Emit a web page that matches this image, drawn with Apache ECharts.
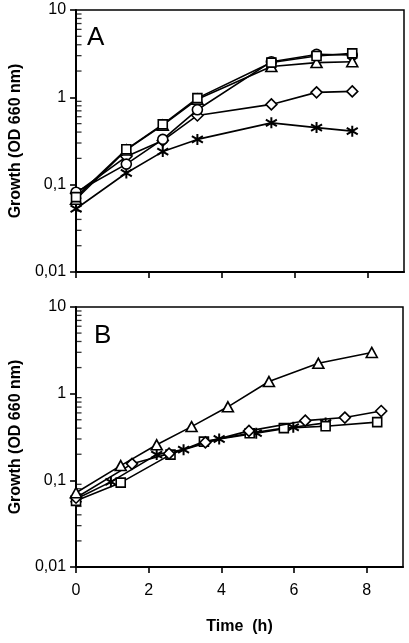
<!DOCTYPE html>
<html>
<head>
<meta charset="utf-8">
<script src="https://cdn.jsdelivr.net/npm/echarts@6/dist/echarts.min.js"></script>
<style>html,body{margin:0;padding:0;background:#fff;}#c{width:409px;height:643px;}</style>
</head>
<body>
<div id="c"></div>
<script>
// ---- Panel A data (time h, OD660) ----
const aTime = [0, 1.38, 2.38, 3.33, 5.36, 6.6, 7.58];
const aSquare   = [0.072, 0.254, 0.49, 0.98, 2.5, 2.97, 3.19];
const aCircle   = [0.082, 0.172, 0.33, 0.72, 2.56, 3.1, 3.05];
const aTriangle = [0.068, 0.25, 0.48, 0.95, 2.25, 2.5, 2.56];
const aDiamond  = [0.080, 0.21, 0.32, 0.62, 0.83, 1.14, 1.17];
const aStar     = [0.053, 0.136, 0.239, 0.33, 0.51, 0.45, 0.41];

// ---- Panel B data ----
const bTriTime  = [0, 1.23, 2.22, 3.18, 4.18, 5.31, 6.67, 8.14];
const bTriangle = [0.072, 0.148, 0.257, 0.417, 0.705, 1.38, 2.24, 2.99];
const bSqTime   = [0, 1.23, 2.6, 3.52, 4.78, 5.72, 6.87, 8.29];
const bSquare   = [0.058, 0.094, 0.198, 0.28, 0.35, 0.40, 0.42, 0.47];
const bDiaTime  = [0, 1.54, 2.56, 3.56, 4.76, 6.31, 7.4, 8.4];
const bDiamond  = [0.063, 0.155, 0.203, 0.274, 0.372, 0.488, 0.53, 0.63];
const bStarTime = [0, 0.96, 2.22, 2.96, 3.94, 4.96, 5.98, 6.87];
const bStar     = [0.061, 0.096, 0.198, 0.226, 0.30, 0.35, 0.41, 0.46];

// ---- axis ----
const xTicks = [0, 2, 4, 6, 8];
const yTickLabels = {'0.01': '0,01', '0.1': '0,1', '1': '1', '10': '10'};
const minorTickValues = [0.02,0.03,0.04,0.05,0.06,0.07,0.08,0.09,0.2,0.3,0.4,0.5,0.6,0.7,0.8,0.9,2,3,4,5,6,7,8,9];

const FONT = 'Liberation Sans, Arial, sans-serif';
const starPath = 'path://M0,-5L0,5M-4.6,-3L4.6,3M-4.6,3L4.6,-3';

function zip(xs, ys){ return xs.map((x,i)=>[x, ys[i]]); }

const markers = {
  square:  {symbol:'rect', size:9},
  circle:  {symbol:'circle', size:10},
  triangle:{symbol:'triangle', size:[11,10]},
  diamond: {symbol:'diamond', size:[11,11]},
  star:    {symbol:starPath, size:11}
};

function lineSeries(gi, data, m, z){
  return {
    type:'line', xAxisIndex:gi, yAxisIndex:gi, data:data,
    symbol: markers[m].symbol, symbolSize: markers[m].size,
    showAllSymbol:true, z:z||2,
    lineStyle:{color:'#000', width:1.6},
    itemStyle:{color: m==='star' ? '#000' : '#fff', borderColor:'#000', borderWidth: m==='star' ? 2 : 1.6},
    emphasis:{disabled:true}, animation:false
  };
}
function minorSeries(gi){
  return {
    type:'scatter', xAxisIndex:gi, yAxisIndex:gi, data:minorTickValues.map(v=>[0,v]),
    symbol:'rect', symbolSize:[5,1.3], symbolOffset:[3,0], clip:false, silent:true, z:1,
    itemStyle:{color:'#000'}, animation:false
  };
}

function yAxis(gi){
  return {
    type:'log', gridIndex:gi, min:0.01, max:10, logBase:10,
    name:'Growth (OD 660 nm)', nameLocation:'middle', nameGap:47,
    nameTextStyle:{fontFamily:FONT, fontWeight:'bold', fontSize:16, color:'#000'},
    axisLine:{show:true, lineStyle:{color:'#000', width:2}},
    axisTick:{show:true, length:6, lineStyle:{color:'#000', width:1.6}},
    axisLabel:{fontFamily:FONT, fontSize:16, color:'#000', margin:10,
      formatter: v => { const k = String(+(+v).toPrecision(3)); return yTickLabels[k] !== undefined ? yTickLabels[k] : ''; }},
    splitLine:{show:false}
  };
}
function xAxis(gi, showLabels){
  return {
    type:'value', gridIndex:gi, min:0, max:9, interval:2,
    name: showLabels ? 'Time  (h)' : '', nameLocation:'middle', nameGap:52,
    nameTextStyle:{fontFamily:FONT, fontWeight:'bold', fontSize:16, color:'#000'},
    axisLine:{show:true, lineStyle:{color:'#000', width:2}},
    axisTick:{show:true, length:6, customValues:xTicks, lineStyle:{color:'#000', width:1.6}},
    axisLabel:{show:showLabels, customValues:xTicks, fontFamily:FONT, fontSize:16, color:'#000', margin:16,
      formatter: v => String(v)},
    splitLine:{show:false}
  };
}

const chart = echarts.init(document.getElementById('c'), null, {renderer:'canvas'});
chart.setOption({
  animation:false,
  backgroundColor:'#fff',
  grid:[
    {left:72, top:10, right:5, height:262, show:true, borderColor:'#000', borderWidth:1.5},
    {left:74, top:307, right:6, height:260, show:true, borderColor:'#000', borderWidth:1.5}
  ],
  xAxis:[xAxis(0,false), xAxis(1,true)],
  yAxis:[yAxis(0), yAxis(1)],
  graphic:[
    {type:'text', left:87, top:25, style:{text:'A', font:'26px ' + FONT, fill:'#000'}},
    {type:'text', left:94, top:323, style:{text:'B', font:'26px ' + FONT, fill:'#000'}}
  ],
  series:[
    minorSeries(0), minorSeries(1),
    lineSeries(0, zip(aTime, aStar), 'star', 3),
    lineSeries(0, zip(aTime, aDiamond), 'diamond', 4),
    lineSeries(0, zip(aTime, aCircle), 'circle', 5),
    lineSeries(0, zip(aTime, aTriangle), 'triangle', 6),
    lineSeries(0, zip(aTime, aSquare), 'square', 7),
    lineSeries(1, zip(bStarTime, bStar), 'star', 3),
    lineSeries(1, zip(bSqTime, bSquare), 'square', 4),
    lineSeries(1, zip(bDiaTime, bDiamond), 'diamond', 5),
    lineSeries(1, zip(bTriTime, bTriangle), 'triangle', 6)
  ]
});
</script>
</body>
</html>
